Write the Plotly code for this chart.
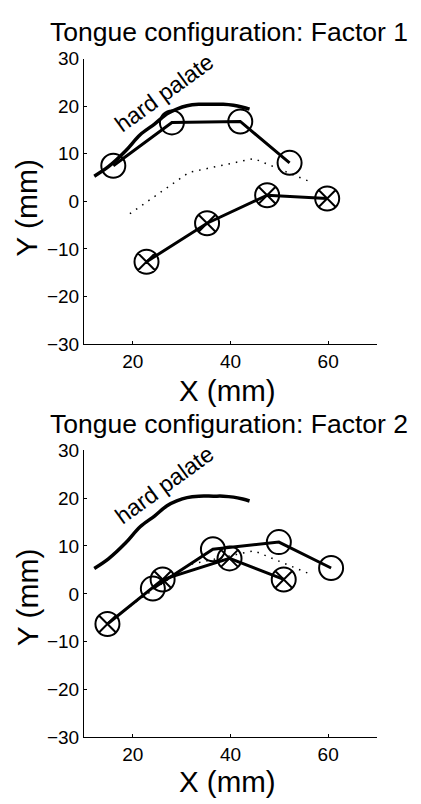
import plotly.graph_objects as go

W, H = 421, 804

# Hard palate outline (same in both panels)
palate_x = [12.1, 15.0, 18.5, 21.5, 24.5, 27.0, 29.0, 31.1, 33.5, 36.5, 38.5, 40.6, 42.5, 43.9]
palate_y = [5.3, 7.3, 10.6, 14.0, 16.3, 18.4, 19.4, 20.1, 20.4, 20.4, 20.4, 20.2, 19.8, 19.4]

# Mean tongue configuration (dotted)
mean_x = [19.4, 31.5, 44.8, 55.9]
mean_y = [-2.6, 6.1, 9.0, 4.3]

# Factor 1
f1_circ_x = [16.0, 28.0, 42.0, 52.1]
f1_circ_y = [7.5, 16.6, 16.8, 8.1]
f1_cross_x = [22.8, 35.2, 47.5, 59.8]
f1_cross_y = [-12.7, -4.6, 1.3, 0.6]

# Factor 2
f2_circ_x = [24.1, 36.4, 49.9, 60.6]
f2_circ_y = [1.1, 9.3, 10.8, 5.4]
f2_cross_x = [14.8, 26.1, 39.8, 50.9]
f2_cross_y = [-6.3, 3.0, 7.4, 3.0]

x_ticks = [20, 40, 60]
y_ticks = [-30, -20, -10, 0, 10, 20, 30]
titles = ["Tongue configuration: Factor 1", "Tongue configuration: Factor 2"]

FONT = "Liberation Sans, Arial, Helvetica, sans-serif"
fig = go.Figure()

panels = [
    ("x", "y", f1_circ_x, f1_circ_y, f1_cross_x, f1_cross_y),
    ("x2", "y2", f2_circ_x, f2_circ_y, f2_cross_x, f2_cross_y),
]
for xa, ya, cx, cy, kx, ky in panels:
    fig.add_trace(go.Scatter(x=palate_x, y=palate_y, mode="lines", xaxis=xa, yaxis=ya,
                             line=dict(color="black", width=3.5, shape="spline"), showlegend=False))
    fig.add_trace(go.Scatter(x=mean_x, y=mean_y, mode="lines", xaxis=xa, yaxis=ya,
                             line=dict(color="black", width=1.5, dash="1.5px,6px"), showlegend=False))
    fig.add_trace(go.Scatter(x=cx, y=cy, mode="lines+markers", xaxis=xa, yaxis=ya,
                             line=dict(color="black", width=3),
                             marker=dict(symbol="circle-open", size=24, color="black",
                                         line=dict(color="black", width=2)),
                             showlegend=False))
    fig.add_trace(go.Scatter(x=kx, y=ky, mode="lines+markers", xaxis=xa, yaxis=ya,
                             line=dict(color="black", width=3),
                             marker=dict(symbol="circle-x-open", size=24, color="black",
                                         line=dict(color="black", width=2)),
                             showlegend=False))

def xpx(p):
    return p / W

def ypx(p):
    return 1 - p / H

xdom = [xpx(84), xpx(377)]
common_x = dict(range=[10, 70], tickvals=x_ticks, showline=True, linecolor="black", linewidth=1,
                ticks="inside", ticklen=3, tickcolor="black", showgrid=False, zeroline=False,
                tickfont=dict(family=FONT, size=19, color="black"), domain=xdom)
common_y = dict(range=[-30, 30], tickvals=y_ticks, showline=True, linecolor="black", linewidth=1,
                ticks="inside", ticklen=3, tickcolor="black", showgrid=False, zeroline=False,
                tickfont=dict(family=FONT, size=19, color="black"))

fig.update_layout(
    width=W, height=H,
    margin=dict(l=0, r=0, t=0, b=0),
    paper_bgcolor="white", plot_bgcolor="white",
    xaxis=dict(common_x, anchor="y"),
    yaxis=dict(common_y, anchor="x", domain=[ypx(343), ypx(50)]),
    xaxis2=dict(common_x, anchor="y2"),
    yaxis2=dict(common_y, anchor="x2", domain=[ypx(747), ypx(452)]),
)

ann = []
for i, (ty, xl_y, yl_y, xr, yr) in enumerate([(23, 391, 203, "x", "y"), (425, 792, 603, "x2", "y2")]):
    ann.append(dict(text=titles[i], xref="paper", yref="paper", x=xpx(229), y=ypx(ty),
                    xanchor="center", yanchor="middle", showarrow=False,
                    font=dict(family=FONT, size=26.5, color="black")))
    ann.append(dict(text="X (mm)", xref="paper", yref="paper", x=xpx(227), y=ypx(xl_y),
                    xanchor="center", yanchor="middle", showarrow=False,
                    font=dict(family=FONT, size=29.5, color="black")))
    ann.append(dict(text="Y (mm)", xref="paper", yref="paper", x=xpx(27), y=ypx(yl_y),
                    xanchor="center", yanchor="middle", showarrow=False, textangle=-90,
                    font=dict(family=FONT, size=30, color="black")))
    ann.append(dict(text="hard palate", xref=xr, yref=yr, x=26.4, y=22.7,
                    xanchor="center", yanchor="middle", showarrow=False, textangle=-36,
                    font=dict(family=FONT, size=23, color="black")))
fig.update_layout(annotations=ann)

fig.write_html("out.html")
